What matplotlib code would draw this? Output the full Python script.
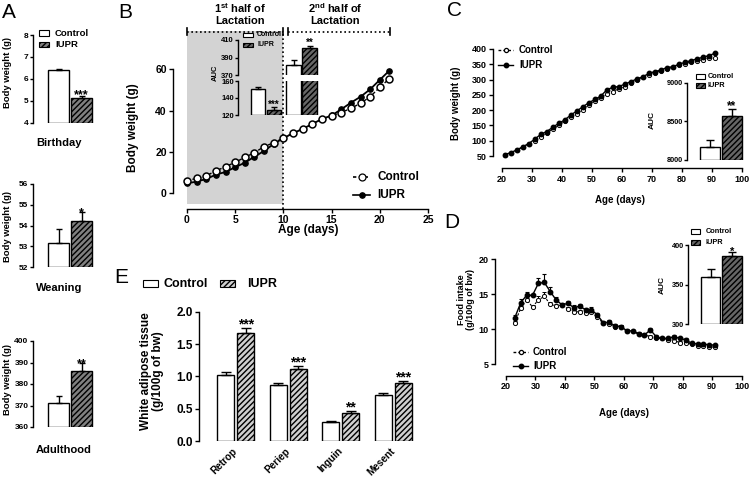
import matplotlib
matplotlib.use('Agg')
import matplotlib.pyplot as plt
from matplotlib.patches import Rectangle
from matplotlib.lines import Line2D
from matplotlib.transforms import Affine2D

# ---------------- data ----------------
groups = ['Control', 'IUPR']

# A: body weight at three ages
age_names = ['Birthday', 'Weaning', 'Adulthood']
birth_mean = [6.40, 5.13]
birth_sem = [0.06, 0.10]
wean_mean = [53.15, 54.22]
wean_sem = [0.70, 0.42]
adult_mean = [371.3, 386.2]
adult_sem = [2.9, 3.4]
age_stars = ['***', '*', '**']

# B: body weight during lactation
lact_days = [0, 1, 2, 3, 4, 5, 6, 7, 8, 9, 10, 11, 12, 13, 14, 15, 16, 17, 18, 19, 20, 21]
lact_ctrl = [6.0, 7.1, 8.4, 10.7, 12.8, 14.9, 17.3, 19.6, 22.5, 24.4, 26.6, 29.0,
             31.1, 33.5, 35.9, 37.5, 39.0, 41.1, 43.5, 46.7, 51.3, 55.5]
lact_iupr = [4.7, 5.5, 6.8, 8.9, 10.2, 12.5, 14.7, 17.6, 20.4, 23.8, 26.6, 29.0,
             31.1, 33.5, 35.9, 37.6, 40.6, 43.8, 46.7, 50.3, 54.9, 59.4]
auc_first = [150.2, 125.9]
auc_first_sem = [2.4, 3.0]
auc_second = [381.4, 400.5]
auc_second_sem = [5.7, 2.6]

# C: body weight after weaning
pw_days = [21, 23, 25, 27, 29, 31, 33, 35, 37, 39, 41, 43, 45, 47, 49, 51, 53, 55,
           57, 59, 61, 63, 65, 67, 69, 71, 73, 75, 77, 79, 81, 83, 85, 87, 89, 91]
pw_ctrl = [54, 60, 69, 80, 90, 100, 113, 126, 138, 150, 163, 177, 188, 202, 218, 231, 240, 252,
           260, 270, 276, 289, 300, 308, 316, 322, 328, 334, 341, 348, 352, 357, 361, 365, 370, 370]
pw_iupr = [55, 61, 70, 80, 91, 105, 121, 130, 144, 157, 168, 184, 197, 211, 224, 235, 246, 266,
           275, 277, 285, 293, 302, 309, 320, 326, 331, 339, 342, 350, 356, 362, 367, 373, 378, 386]
pw_auc = [8168, 8573]
pw_auc_sem = [91, 83]

# D: food intake
fi_days = [23, 25, 27, 29, 31, 33, 35, 37, 39, 41, 43, 45, 47, 49, 51, 53, 55, 57,
           59, 61, 63, 65, 67, 69, 71, 73, 75, 77, 79, 81, 83, 85, 87, 89, 91]
fi_ctrl = [10.95, 13.0, 14.2, 13.2, 14.2, 14.7, 13.6, 13.3, 13.5, 12.9, 12.5, 12.5, 12.4, 12.5,
           11.7, 10.86, 10.7, 10.4, 10.4, 9.7, 9.7, 9.3, 9.2, 8.95, 8.7, 8.7, 8.5, 8.4, 8.1, 8.1,
           7.86, 7.67, 7.67, 7.43, 7.5]
fi_ctrl_sem = [0.3, 0.4, 0.3, 0.3, 0.5, 0.6, 0.3, 0.3, 0.3, 0.3, 0.3, 0.2, 0.3, 0.3,
               0.2, 0.2, 0.2, 0.2, 0.2, 0.2, 0.2, 0.2, 0.2, 0.3, 0.2, 0.2, 0.2, 0.2, 0.2, 0.2,
               0.2, 0.2, 0.2, 0.2, 0.2]
fi_iupr = [11.67, 13.8, 14.86, 14.86, 16.57, 16.7, 15.4, 14.2, 13.5, 13.7, 13.1, 13.3, 12.8, 12.8,
           12.05, 10.95, 11.0, 10.5, 10.4, 9.8, 9.76, 9.4, 9.2, 9.9, 8.95, 8.7, 8.7, 8.95, 8.7, 8.5,
           8.0, 7.9, 7.9, 7.76, 7.76]
fi_iupr_sem = [0.4, 0.5, 0.4, 0.2, 0.7, 1.2, 0.6, 0.4, 0.3, 0.4, 0.4, 0.3, 0.3, 0.4,
               0.3, 0.3, 0.3, 0.2, 0.2, 0.3, 0.2, 0.2, 0.2, 0.3, 0.2, 0.2, 0.2, 0.2, 0.2, 0.2,
               0.2, 0.2, 0.2, 0.2, 0.2]
fi_auc = [360.0, 386.1]
fi_auc_sem = [9.4, 5.5]

# E: white adipose tissue depots
fat_depots = ['Retrop', 'Periep', 'Inguin', 'Mesent']
fat_ctrl = [1.026, 0.86, 0.292, 0.708]
fat_ctrl_sem = [0.035, 0.035, 0.025, 0.035]
fat_iupr = [1.677, 1.108, 0.426, 0.892]
fat_iupr_sem = [0.065, 0.05, 0.035, 0.035]
fat_stars = ['***', '***', '**', '***']

# ---------------- style ----------------
plt.rcParams['font.family'] = ['Liberation Sans', 'DejaVu Sans']
plt.rcParams['font.weight'] = 'bold'
plt.rcParams['mathtext.fontset'] = 'custom'
plt.rcParams['mathtext.rm'] = 'Liberation Sans:bold'
plt.rcParams['mathtext.it'] = 'Liberation Sans:bold'
plt.rcParams['mathtext.bf'] = 'Liberation Sans:bold'
plt.rcParams['hatch.linewidth'] = 1.0
plt.rcParams['axes.linewidth'] = 1.0

W, H = 750, 478
fig = plt.figure(figsize=(W / 100, H / 100), dpi=100)
# pixel coordinates, origin top-left
px = Affine2D().scale(1 / W, -1 / H).translate(0, 1) + fig.transFigure

DARK = '#808080'
INSET_DARK = '#666666'


def add_ax(l, t, r, b):
    ax = fig.add_axes([l / W, 1 - b / H, (r - l) / W, (b - t) / H])
    ax.patch.set_visible(False)
    for s in ('top', 'right'):
        ax.spines[s].set_visible(False)
    return ax


def ticks(ax, size, length=3, pad=1.5):
    ax.tick_params(direction='out', length=length, width=1, pad=pad, labelsize=size)


def ptext(x, y, s, size, **kw):
    kw.setdefault('ha', 'center')
    kw.setdefault('va', 'center')
    return fig.text(x, y, s, transform=px, fontsize=size, **kw)


def pair_bars(ax, pos, means, sems, base, width, face, hatch, cap, err=True):
    heights = [m - base for m in means]
    ax.bar(pos[0], heights[0], width, bottom=base, facecolor='white',
           edgecolor='black', linewidth=1, zorder=2)
    ax.bar(pos[1], heights[1], width, bottom=base, facecolor=face,
           edgecolor='black', hatch=hatch, linewidth=1, zorder=2)
    if err:
        ax.errorbar(pos, means, yerr=[[0] * len(means), sems], fmt='none', ecolor='black',
                    elinewidth=1, capsize=cap, capthick=1, zorder=3)


def stars(ax, x, top, s, size, dy=0):
    ax.annotate(s, (x, top), xytext=(0, dy), textcoords='offset points',
                ha='center', va='baseline', fontsize=size, fontweight='bold',
                annotation_clip=False)


def box_legend(spots, w, h, size, face, hatch):
    # spots: (box_x, y, text_x) for Control then IUPR
    items = [('white', None), (face, hatch)]
    for (bx, yy, tx), (fc, ht), label in zip(spots, items, groups):
        fig.add_artist(Rectangle((bx, yy - h / 2), w, h, transform=px, facecolor=fc,
                                 edgecolor='black', hatch=ht, linewidth=0.8))
        ptext(tx, yy, label, size, ha='left')


def line_legend(x1, x2, ys, size, gap, ms_open, ms_fill, lw=1):
    fig.add_artist(Line2D([x1, x2], [ys[0], ys[0]], transform=px, color='black',
                          lw=lw, ls=(0, (2, 1.5))))
    fig.add_artist(Line2D([(x1 + x2) / 2], [ys[0]], transform=px, marker='o', ms=ms_open,
                          mfc='white', mec='black', mew=0.9, ls='none'))
    fig.add_artist(Line2D([x1, x2], [ys[1], ys[1]], transform=px, color='black', lw=lw))
    fig.add_artist(Line2D([(x1 + x2) / 2], [ys[1]], transform=px, marker='o', ms=ms_fill,
                          mfc='black', mec='black', ls='none'))
    ptext(x2 + gap, ys[0], groups[0], size, ha='left')
    ptext(x2 + gap, ys[1], groups[1], size, ha='left')


# ---------------- panel letters ----------------
for letter, (lx, ly) in zip('ABCDE', [(9, 12), (125, 12), (454, 10), (452, 223), (121, 278)]):
    ptext(lx, ly, letter, 15, fontweight='normal')

# ---------------- A ----------------
a_layout = [(35, 122.7, (4, 8), [4, 5, 6, 7, 8], 143, 72, -2),
            (184, 267, (52, 56), [52, 53, 54, 55, 56], 288, 226, -3),
            (341, 427, (360, 400), [360, 370, 380, 390, 400], 450, 380, -3)]
a_means = [birth_mean, wean_mean, adult_mean]
a_sems = [birth_sem, wean_sem, adult_sem]
for (top, bot, lim, yt, name_y, lab_y, dy), means, sems, name, st in zip(
        a_layout, a_means, a_sems, age_names, age_stars):
    ax = add_ax(33.3, top, 100, bot)
    ax.set_xlim(-1.1, 1.8)
    ax.set_ylim(*lim)
    ax.spines['bottom'].set_visible(False)
    ax.set_xticks([])
    ax.set_yticks(yt)
    ticks(ax, 6, length=2.5, pad=1)
    pair_bars(ax, [0, 1], means, sems, lim[0], 0.91, DARK, '//////', 2.5)
    stars(ax, 1, means[1] + sems[1], st, 9, dy)
    ptext(36, name_y, name, 8, ha='left')
    ptext(8, lab_y, 'Body weight (g)', 6.8, rotation=90)
box_legend([(39, 33, 55), (39, 44.5, 55)], 10, 5.5, 6.8, DARK, '//////')

# ---------------- B ----------------
axB = add_ax(173, 31, 428, 209)
axB.set_xlim(-1.45, 25)
axB.set_ylim(-7.77, 78.6)
axB.add_patch(Rectangle((0, -5.3), 10, 90, facecolor='#d3d3d3', edgecolor='none', zorder=0))
axB.axvline(10, color='black', lw=1.2, ls=(0, (1, 1.6)), zorder=1)
axB.plot(lact_days, lact_iupr, '-o', color='black', lw=1.3, ms=3.8, zorder=3)
axB.plot(lact_days, lact_ctrl, color='black', lw=1.0, ls=(0, (2.5, 1.5)), marker='o',
         ms=5.0, mfc='white', mec='black', mew=1.1, zorder=4)
axB.spines['left'].set_bounds(0, 60)
axB.spines['bottom'].set_bounds(0, 25)
axB.set_xticks([0, 5, 10, 15, 20, 25])
axB.set_yticks([0, 20, 40, 60])
ticks(axB, 7.5)
# lactation period brackets
for x0, x1 in [(0, 9.93), (10.5, 21.06)]:
    axB.plot([x0, x1], [78.3, 78.3], color='black', lw=1.2, ls=(0, (1, 1.6)), clip_on=False)
    for xe in (x0, x1):
        axB.plot([xe, xe], [76.7, 80.1], color='black', lw=1.2, clip_on=False)
ptext(240, 8, '1$^{\\mathbf{st}}$ half of', 8)
ptext(240, 21, 'Lactation', 8)
ptext(335, 8, '2$^{\\mathbf{nd}}$ half of', 8)
ptext(335, 21, 'Lactation', 8)
ptext(308, 230, 'Age (days)', 8.5)
ptext(133, 128, 'Body weight (g)', 8.5, rotation=90)
line_legend(353, 370, [177, 195], 8.5, 7, 5.0, 3.8, lw=1.2)

# B inset: AUC with broken axis
axBu = add_ax(238, 40, 320, 75)
axBl = add_ax(238, 81, 320, 115)
for ax, lim, yt in ((axBu, (370, 410), [370, 390, 410]), (axBl, (120, 160), [120, 140, 160])):
    ax.set_xlim(-1.25, 3.9)
    ax.set_ylim(*lim)
    ax.set_yticks(yt)
    ax.set_xticks([])
    ax.spines['bottom'].set_visible(False)
    ticks(ax, 5.5, length=2, pad=1)
pair_bars(axBl, [0, 1], auc_first, auc_first_sem, 120, 0.9, INSET_DARK, '//////', 2)
pair_bars(axBl, [2.25, 3.25], auc_second, auc_second_sem, 120, 0.95, INSET_DARK, '//////', 2, err=False)
pair_bars(axBu, [2.25, 3.25], auc_second, auc_second_sem, 360, 0.95, INSET_DARK, '//////', 2)
stars(axBl, 1, auc_first[1] + auc_first_sem[1], '***', 7)
stars(axBu, 3.25, auc_second[1] + auc_second_sem[1], '**', 7)
ptext(215, 73, 'AUC', 5.5, rotation=90)
box_legend([(243, 35, 257), (243, 45, 257)], 10, 4.5, 5, INSET_DARK, '//////')

# ---------------- C ----------------
axC = add_ax(492.7, 49, 741.7, 168.3)
axC.set_xlim(17, 100)
axC.set_ylim(10, 400)
axC.plot(pw_days, pw_ctrl, color='black', lw=0.8, ls=(0, (2, 1.5)), marker='o', ms=3.0,
         mfc='white', mec='black', mew=0.7, zorder=3)
axC.plot(pw_days, pw_iupr, '-o', color='black', lw=1.0, ms=3.2, zorder=4)
axC.spines['left'].set_bounds(50, 400)
axC.spines['bottom'].set_bounds(20, 100)
axC.set_yticks([50, 100, 150, 200, 250, 300, 350, 400])
axC.set_xticks([20, 30, 40, 50, 60, 70, 80, 90, 100])
ticks(axC, 6.5)
ptext(620, 200, 'Age (days)', 7)
ptext(456, 103, 'Body weight (g)', 7, rotation=90)
line_legend(498, 513, [50, 65], 7, 6, 3.0, 3.2)

axCi = add_ax(687, 82.7, 745, 160)
axCi.set_xlim(-1.05, 1.6)
axCi.set_ylim(8000, 9000)
axCi.set_yticks([8000, 8500, 9000])
axCi.set_xticks([])
axCi.spines['bottom'].set_visible(False)
ticks(axCi, 5.3, length=2, pad=1)
pair_bars(axCi, [0, 1], pw_auc, pw_auc_sem, 8000, 0.9, INSET_DARK, '//////', 3)
stars(axCi, 1, pw_auc[1] + pw_auc_sem[1], '**', 8.5)
ptext(652, 120, 'AUC', 6, rotation=90)
box_legend([(696, 76.5, 708), (696, 85.5, 708)], 9, 4.5, 5.3, INSET_DARK, '//////')

# ---------------- D ----------------
axD = add_ax(495, 259.3, 741.7, 376)
axD.set_xlim(16.27, 100)
axD.set_ylim(3.33, 20)
zeros = [0] * len(fi_days)
axD.errorbar(fi_days, fi_ctrl, yerr=[zeros, fi_ctrl_sem], color='black', lw=0.8,
             ls=(0, (2, 1.5)), marker='o', ms=3.0, mfc='white', mec='black', mew=0.7,
             elinewidth=0.8, capsize=1.5, capthick=0.8, zorder=3)
axD.errorbar(fi_days, fi_iupr, yerr=[zeros, fi_iupr_sem], color='black', lw=1.0,
             marker='o', ms=3.2, elinewidth=0.8, capsize=1.5, capthick=0.8, zorder=4)
axD.spines['left'].set_bounds(5, 20)
axD.spines['bottom'].set_bounds(20, 100)
axD.set_yticks([5, 10, 15, 20])
axD.set_xticks([20, 30, 40, 50, 60, 70, 80, 90, 100])
ticks(axD, 6.5)
ptext(624, 413, 'Age (days)', 7)
ptext(466, 300, 'Food intake\n(g/100g of bw)', 6.5, rotation=90, linespacing=1.1)
line_legend(513, 528, [352, 366], 7, 5, 3.0, 3.2)

axDi = add_ax(688, 245, 745, 324.3)
axDi.set_xlim(-1.05, 1.6)
axDi.set_ylim(300, 400)
axDi.set_yticks([300, 350, 400])
axDi.set_xticks([])
axDi.spines['bottom'].set_visible(False)
ticks(axDi, 5.3, length=2, pad=1)
pair_bars(axDi, [0, 1], fi_auc, fi_auc_sem, 300, 0.9, INSET_DARK, '//////', 3)
stars(axDi, 1, fi_auc[1] + fi_auc_sem[1], '*', 8, dy=-2)
ptext(662, 285, 'AUC', 6, rotation=90)
box_legend([(691, 231.5, 706), (691, 242.5, 706)], 9, 4.5, 5.3, INSET_DARK, '//////')

# ---------------- E ----------------
axE = add_ax(199.3, 311.7, 420, 441)
axE.set_xlim(-0.693, 3.51)
axE.set_ylim(0, 2)
axE.spines['bottom'].set_visible(False)
xc = list(range(len(fat_depots)))
off, bw = 0.19, 0.324
axE.bar([x - off for x in xc], fat_ctrl, bw, facecolor='white', edgecolor='black', linewidth=1, zorder=2)
axE.bar([x + off for x in xc], fat_iupr, bw, facecolor='#d0d0d0', edgecolor='black',
        hatch='//////', linewidth=1, zorder=2)
axE.errorbar([x - off for x in xc], fat_ctrl, yerr=[[0] * 4, fat_ctrl_sem], fmt='none',
             ecolor='black', elinewidth=1, capsize=3.5, capthick=1, zorder=3)
axE.errorbar([x + off for x in xc], fat_iupr, yerr=[[0] * 4, fat_iupr_sem], fmt='none',
             ecolor='black', elinewidth=1, capsize=3.5, capthick=1, zorder=3)
for x, m, s, st in zip(xc, fat_iupr, fat_iupr_sem, fat_stars):
    stars(axE, x + off, m + s, st, 10)
axE.set_yticks([0.0, 0.5, 1.0, 1.5, 2.0])
axE.set_yticklabels(['0.0', '0.5', '1.0', '1.5', '2.0'])
axE.set_xticks(xc)
axE.set_xticklabels(fat_depots, rotation=45, ha='right', va='center', rotation_mode='anchor')
ticks(axE, 8.5)
axE.tick_params(axis='x', length=0, pad=6, labelsize=7.2)
ptext(152, 371, 'White adipose tissue\n(g/100g of bw)', 8.5, rotation=90, linespacing=1.05)
box_legend([(143, 284, 163), (220, 284, 247)], 15, 7, 9, '#d0d0d0', '//////')

fig.savefig('out.png', dpi=100)
